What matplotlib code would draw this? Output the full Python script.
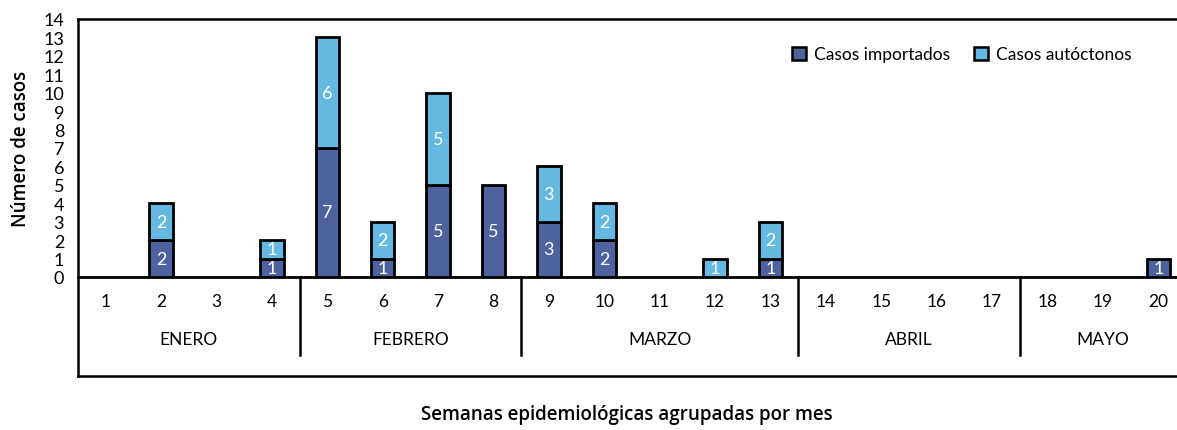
import numpy as np
import matplotlib
matplotlib.use("Agg")
import matplotlib.pyplot as plt
from matplotlib.patches import Patch

plt.rcParams['font.family'] = ['Lato', 'DejaVu Sans']

semanas = list(range(1, 21))
importados = [0, 2, 0, 1, 7, 1, 5, 5, 3, 2, 0, 0, 1, 0, 0, 0, 0, 0, 0, 1]
autoctonos = [0, 2, 0, 1, 6, 2, 5, 0, 3, 2, 0, 1, 2, 0, 0, 0, 0, 0, 0, 0]
meses = ["ENERO", "FEBRERO", "MARZO", "ABRIL", "MAYO"]
semanas_mes = [[1, 2, 3, 4], [5, 6, 7, 8], [9, 10, 11, 12, 13], [14, 15, 16, 17], [18, 19, 20]]

C_IMP = "#4f62a0"
C_AUT = "#65b9e0"

fig = plt.figure(figsize=(11.77, 4.31), dpi=100)
ax = fig.add_axes([78/1177, 1-278/431, 20*55.4/1177, 258/431])

x = np.array(semanas)
imp = np.array(importados); aut = np.array(autoctonos)
w = 0.42
m = imp > 0
ax.bar(x[m], imp[m], width=w, color=C_IMP, edgecolor="black", lw=2, zorder=3)
m2 = aut > 0
ax.bar(x[m2], aut[m2], width=w, bottom=imp[m2], color=C_AUT, edgecolor="black", lw=2, zorder=3)
for xi, a, b in zip(x, imp, aut):
    if a > 0:
        ax.text(xi, a/2, str(a), ha="center", va="center", color="white", fontsize=13, zorder=4)
    if b > 0:
        ax.text(xi, a + b/2, str(b), ha="center", va="center", color="white", fontsize=13, zorder=4)

ax.set_xlim(0.5, 20.5)
ax.set_ylim(0, 14)
ax.set_yticks(range(0, 15))
ax.tick_params(axis="y", length=0, labelsize=13, pad=10)
ax.set_xticks([])
ax.spines["right"].set_visible(False)
ax.spines["top"].set_linewidth(1.8)
ax.spines["left"].set_linewidth(1.8)
ax.spines["bottom"].set_linewidth(2)

tr = ax.get_xaxis_transform()
y_sem, y_mes, y_sep, y_box = -24/258, -62/258, -78/258, -99/258
for s in semanas:
    ax.text(s, y_sem, str(s), transform=tr, ha="center", va="center", fontsize=12.5)
for nombre, ss in zip(meses, semanas_mes):
    ax.text((ss[0] + ss[-1]) / 2, y_mes, nombre, transform=tr, ha="center", va="center", fontsize=12.5)
for ss in semanas_mes[1:]:
    ax.plot([ss[0] - 0.5] * 2, [0, y_sep], transform=tr, color="black", lw=1.8, clip_on=False)
ax.plot([0.5, 0.5], [0, y_box], transform=tr, color="black", lw=1.8, clip_on=False)
ax.plot([0.5, 20.5], [y_box, y_box], transform=tr, color="black", lw=1.8, clip_on=False)

ax.set_ylabel("Número de casos", fontsize=13.5, fontweight="semibold", family=["Open Sans", "DejaVu Sans"], labelpad=9)
fig.text(627/1177, 1-415/431, "Semanas epidemiológicas agrupadas por mes", ha="center", va="center",
         fontsize=13.5, fontweight="semibold", family=["Open Sans", "DejaVu Sans"])

handles = [Patch(facecolor=C_IMP, edgecolor="black", lw=1.8, label="Casos importados"),
           Patch(facecolor=C_AUT, edgecolor="black", lw=1.8, label="Casos autóctonos")]
ax.legend(handles=handles, loc="upper left", bbox_to_anchor=(0.63, 0.955), ncol=2, frameon=False,
          fontsize=12.5, handlelength=0.8, handleheight=0.8, handletextpad=0.5, columnspacing=1.35)

fig.savefig("out.png", dpi=100)
